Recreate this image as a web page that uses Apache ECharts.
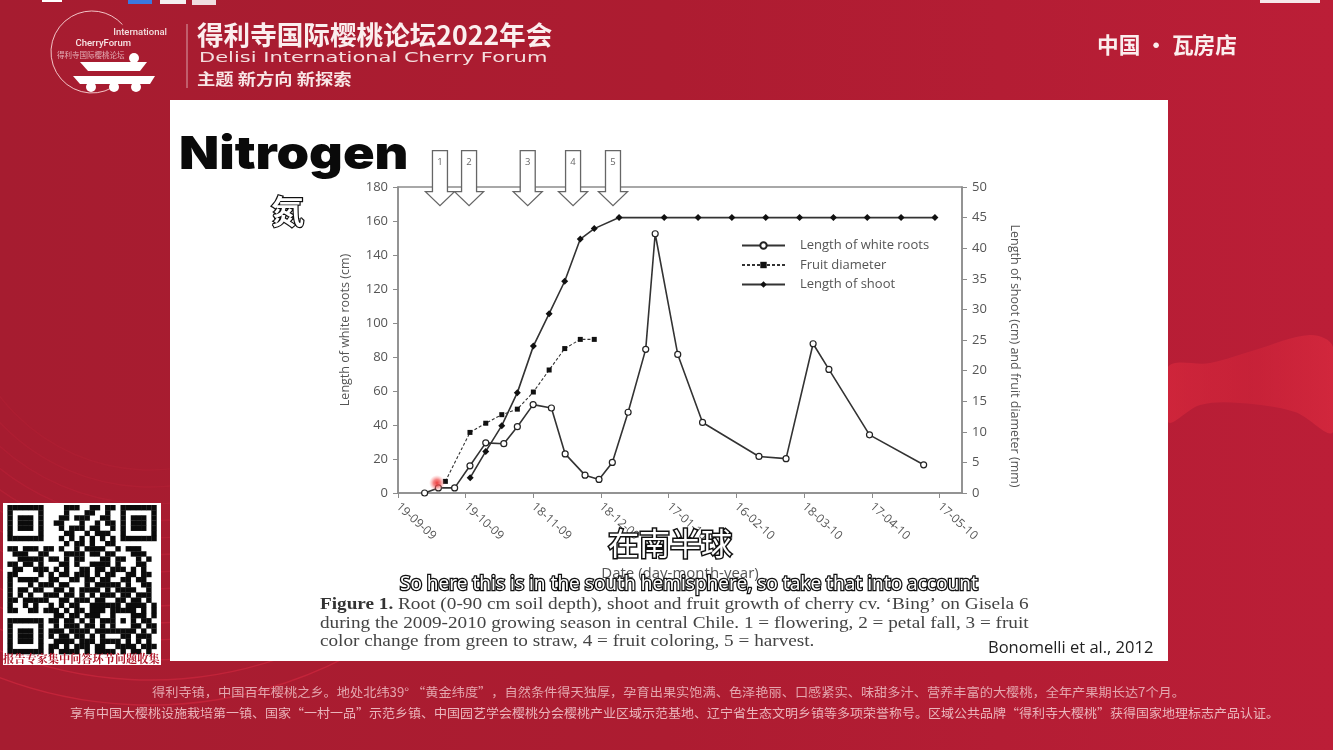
<!DOCTYPE html>
<html><head><meta charset="utf-8">
<style>html,body{margin:0;padding:0;background:#a81c32}#c{width:1333px;height:750px}</style>
<script src="https://cdn.jsdelivr.net/npm/echarts@6/dist/echarts.min.js"></script>
</head><body><div id="c"></div>
<script>
// Days are counted from the first axis tick, 19-09-09
var tickDays = [0,30,60,90,120,150,180,210,240];
var tickLabels = ['19-09-09','19-10-09','18-11-09','18-12-09','17-01-10','16-02-10','18-03-10','17-04-10','17-05-10'];
var rootDays = [11.8,17.9,25.1,31.9,38.9,46.9,52.9,59.9,68,74.1,82.9,89.1,95,102,109.8,114,124,135,160,172,184,191,209,233];
var rootLength = [0,3,3,16,29.5,29,39,52,50,23,10.5,8,18,47.5,84.5,152.5,81.5,41.5,21.5,20.2,87.8,72.7,34.2,16.6];
var fruitDays = [21,31.9,38.9,46,52.9,60,67,73.9,80.8,87];
var fruitDiameter = [1.9,9.9,11.4,12.8,13.7,16.5,20.1,23.6,25.1,25.1];
var shootDays = [32,38.9,46,52.9,60,67,73.9,80.8,87,98,118,133,148,163,178,193,208,223,238];
var shootLength = [2.5,6.8,11,16.4,24,29.3,34.6,41.5,43.2,45,45,45,45,45,45,45,45,45,45];
var stageDays = [18.6,31.5,57.5,77.6,95.3];
var stageLabels = ['1','2','3','4','5'];
var seriesNames = ['Length of white roots','Fruit diameter','Length of shoot'];
var captionLines = ['Root (0-90 cm soil depth), shoot and fruit growth of cherry cv. ‘Bing’ on Gisela 6','during the 2009-2010 growing season in central Chile. 1 = flowering, 2 = petal fall, 3 = fruit','color change from green to straw, 4 = fruit coloring, 5 = harvest.'];
var qrRows = [
'11111110000111001101101111111',
'10000010000100011001001000001',
'10111010001101110011001011101',
'10111010011000100101101011101',
'10111010001011101100101011101',
'10000010000110010111001000001',
'11111110001010101010101111111',
'00000000000101101001100000000',
'11011101101001011110010111000',
'01110011000111101101100011100',
'00111110110101100011011001010',
'11011010001101001111010001100',
'01100111010100110110111010100',
'11000010101101110101100110110',
'10111100110011011011001101100',
'10001011101100010111110100110',
'10110110011010111101011110010',
'10101001110110101011101101110',
'11011111001101110110011011010',
'10010100101011001111110111101',
'11001101110101101110111110101',
'00000000011011011100100011101',
'11111110110110101011101010110',
'10000010010111011010100011011',
'10111010111011110111111110101',
'10111010101101101010001101110',
'10111010011110111011110101010',
'10000010110101110110011110111',
'11111110101111010111101011010'];

function txt(x,y,text,size,fill,o){o=o||{};return {type:'text',x:x,y:y,scaleX:o.sx||1,z:o.z||50,silent:true,
 style:{text:text,fontSize:size,fontFamily:o.font||'"Noto Sans CJK SC"',fontWeight:o.w||'normal',fill:fill,
 textAlign:o.align||'left',textVerticalAlign:'middle',stroke:o.stroke,lineWidth:o.lw||0}};}
function rect(x,y,w,h,fill,z){return {type:'rect',z:z==null?-10:z,silent:true,shape:{x:x,y:y,width:w,height:h},style:{fill:fill}};}
function ring(cx,cy,r,c,lw,a0,a1,z){return {type:'arc',z:z==null?-9:z,silent:true,shape:{cx:cx,cy:cy,r:r,startAngle:a0,endAngle:a1},style:{fill:'none',stroke:c,lineWidth:lw}};}

var gfx = [];
gfx.push({type:'rect',z:-12,silent:true,shape:{x:0,y:0,width:1333,height:750},style:{fill:new echarts.graphic.LinearGradient(0,0,1,0,[{offset:0,color:'#a61c30'},{offset:.5,color:'#ad1c31'},{offset:1,color:'#bb1e37'}])}});
// faint curves low on the left
[190,207,224,241,258,275,292,309,326,343,360,380,400,425].forEach(function(r,i){
 gfx.push(ring(150,280,r,'rgba(226,45,70,'+(0.10+i*0.028).toFixed(3)+')',1.4,0.05,3.1,-11));});
// ribbon on the right
gfx.push({type:'polygon',z:-11,silent:true,shape:{smooth:0.35,points:[[1168,367],[1210,363],[1255,350],[1310,335],[1333,347],[1333,432],[1295,412],[1240,403],[1200,405],[1168,422]]},
 style:{fill:new echarts.graphic.LinearGradient(0,0,1,0,[{offset:0,color:'rgba(222,42,62,0.6)'},{offset:.5,color:'rgba(215,38,58,0.45)'},{offset:1,color:'rgba(225,45,65,0.6)'}])}});
// browser remnants along the top edge
gfx.push(rect(128,0,24,4,'#3b78e0',-8),rect(160,0,26,4,'#f4f0f0',-8),rect(192,0,24,5,'#f0dde0',-8),rect(42,0,20,2,'#ffffff',-8),rect(1260,0,60,3,'#f6e8ea',-8));
// slide panel
gfx.push(rect(170,100,998,561,'#ffffff',-5));
// QR block
gfx.push(rect(3,503,158,162,'#ffffff',-5));
qrRows.forEach(function(row,i){
 row.split('').forEach(function(b,j){ if(b==='1') gfx.push(rect(7.4+j*5.14,505+i*5.14,5.4,5.4,'#0b0b0b',-4)); });});
gfx.push(txt(3,658.5,'报告专家集中问答环节问题收集',11.2,'#b01528',{w:'bold',font:'"Noto Serif CJK SC","Noto Sans CJK SC"'}));
// logo
gfx.push(ring(92,52,41,'rgba(255,225,225,0.85)',1,1.05,5.55,1));
gfx.push(txt(167,33,'International',9.5,'#f2dede',{align:'right',font:'Roboto',w:'500'}),
 txt(131,44,'CherryForum',9.5,'#f7e6e6',{align:'right',font:'Roboto',w:'500'}),
 txt(57,55,'得利寺国际樱桃论坛',7.5,'#e4aeb6'));
gfx.push({type:'polygon',z:2,silent:true,shape:{points:[[80,62],[147,62],[140,71],[88,71]]},style:{fill:'#fff'}},
 {type:'polygon',z:2,silent:true,shape:{points:[[73,76],[155,76],[150,84],[80,84]]},style:{fill:'#fff'}},
 {type:'circle',z:2,silent:true,shape:{cx:134,cy:58,r:5},style:{fill:'#fff'}},
 {type:'circle',z:2,silent:true,shape:{cx:91,cy:87,r:5},style:{fill:'#fff'}},
 {type:'circle',z:2,silent:true,shape:{cx:114,cy:87,r:5},style:{fill:'#fff'}},
 {type:'circle',z:2,silent:true,shape:{cx:136,cy:87,r:5},style:{fill:'#fff'}});
gfx.push(rect(186.5,24,1,64,'#d9a0a8',1));
// header
gfx.push(txt(197,35,'得利寺国际樱桃论坛2022年会',26.6,'#fbeeee',{w:'bold'}),
 txt(199,58,'Delisi International Cherry Forum',14,'#f4dede',{font:'"DejaVu Sans"',sx:1.5}),
 txt(197,79,'主题 新方向 新探索',15.5,'#f8e6e6',{w:'bold',sx:1.18}),
 txt(1097,45,'中国 · 瓦房店',21.7,'#fbeeee',{w:'bold'}));
// slide title and overlays
gfx.push(txt(179,155,'Nitrogen',46,'#0a0a0a',{font:'Inter',w:'900',sx:1.135}));
gfx.push(txt(271,211,'氮',33,'#ffffff',{w:'bold',stroke:'#111',lw:2.5,z:60}));
gfx.push(txt(608,543,'在南半球',31,'#ffffff',{stroke:'#111',lw:3,z:60}));
gfx.push(txt(400,584.5,'So here this is in the south hemisphere, so take that into account',19,'#ffffff',{font:'"Noto Sans"',stroke:'#111',lw:2.6,z:60}));
// caption
gfx.push(txt(320,605,'Figure 1.',16,'#333',{font:'"Liberation Serif"',w:'bold',sx:1.2}));
gfx.push(txt(398,605,captionLines[0],16,'#444',{font:'"Liberation Serif"',sx:1.206}));
gfx.push(txt(320,623.5,captionLines[1],16,'#444',{font:'"Liberation Serif"',sx:1.2}));
gfx.push(txt(320,641.5,captionLines[2],16,'#444',{font:'"Liberation Serif"',sx:1.2}));
gfx.push(txt(988,648,'Bonomelli et al., 2012',16.5,'#222',{font:'"Open Sans"'}));
// footer
gfx.push(txt(152,692,'得利寺镇，中国百年樱桃之乡。地处北纬39° “黄金纬度”，自然条件得天独厚，孕育出果实饱满、色泽艳丽、口感紧实、味甜多汁、营养丰富的大樱桃，全年产果期长达7个月。',12.5,'#e4a6ae',{sx:1.056}));
gfx.push(txt(70,713,'享有中国大樱桃设施栽培第一镇、国家“一村一品”示范乡镇、中国园艺学会樱桃分会樱桃产业区域示范基地、辽宁省生态文明乡镇等多项荣誉称号。区域公共品牌“得利寺大樱桃”获得国家地理标志产品认证。',12.5,'#eab4bb',{sx:1.04}));
// laser pointer
gfx.push({type:'circle',z:40,silent:true,shape:{cx:437,cy:483,r:8},style:{fill:new echarts.graphic.RadialGradient(.5,.5,.5,[{offset:0,color:'rgba(235,50,50,0.95)'},{offset:.45,color:'rgba(240,80,80,0.7)'},{offset:1,color:'rgba(250,150,150,0)'}])}});

function pairs(xs,ys){return xs.map(function(x,i){return [x,ys[i]];});}
var axisCol='#8c8c8c', font='"Open Sans"', txtCol='#555';
var chart = echarts.init(document.getElementById('c'),null,{renderer:'canvas'});
chart.setOption({
 animation:false,
 graphic:{elements:gfx},
 legend:{left:736,top:234,orient:'vertical',itemWidth:43,itemHeight:8,itemGap:6.5,selectedMode:false,
   data:seriesNames,textStyle:{fontFamily:font,fontSize:13,color:'#555',padding:[0,0,0,10]}},
 grid:{left:398,right:371,top:187,bottom:257,show:true,borderColor:axisCol,borderWidth:1.5,backgroundColor:'transparent'},
 xAxis:{type:'value',min:0,max:250,splitLine:{show:false},
   name:'Date (day-month-year)',nameLocation:'middle',nameGap:73,nameTextStyle:{fontFamily:font,fontSize:15,color:txtCol},
   axisLine:{lineStyle:{color:axisCol,width:1.5}},
   axisTick:{length:5,lineStyle:{color:axisCol},customValues:tickDays},
   axisLabel:{customValues:tickDays,rotate:-42,margin:12,fontFamily:font,fontSize:12,color:txtCol,
     formatter:function(v){return tickLabels[tickDays.indexOf(v)]||'';}}},
 yAxis:[
  {type:'value',min:0,max:180,interval:20,splitLine:{show:false},
   name:'Length of white roots (cm)',nameLocation:'middle',nameRotate:90,nameGap:46,nameTextStyle:{fontFamily:font,fontSize:12.5,color:txtCol,padding:[0,0,0,20]},
   axisLine:{show:true,lineStyle:{color:axisCol,width:1.5}},axisTick:{show:true,length:5,lineStyle:{color:axisCol}},
   axisLabel:{margin:10,fontFamily:font,fontSize:13,color:txtCol}},
  {type:'value',min:0,max:50,interval:5,position:'right',splitLine:{show:false},
   name:'Length of shoot (cm) and fruit diameter (mm)',nameLocation:'middle',nameRotate:-90,nameGap:46,nameTextStyle:{fontFamily:font,fontSize:12.5,color:txtCol,padding:[0,0,0,32]},
   axisLine:{show:true,lineStyle:{color:axisCol,width:1.5}},axisTick:{show:true,length:5,lineStyle:{color:axisCol}},
   axisLabel:{margin:10,fontFamily:font,fontSize:13,color:txtCol}}
 ],
 series:[
  {name:seriesNames[0],type:'line',yAxisIndex:0,data:pairs(rootDays,rootLength),symbol:'circle',symbolSize:6,z:5,
   lineStyle:{color:'#333',width:1.6},itemStyle:{color:'#fff',borderColor:'#222',borderWidth:1.2}},
  {name:seriesNames[1],type:'line',yAxisIndex:1,data:pairs(fruitDays,fruitDiameter),symbol:'rect',symbolSize:5,z:4,
   lineStyle:{color:'#333',width:1.1,type:[3,2]},itemStyle:{color:'#111'}},
  {name:seriesNames[2],type:'line',yAxisIndex:1,data:pairs(shootDays,shootLength),symbol:'diamond',symbolSize:7,z:4,
   lineStyle:{color:'#333',width:1.6},itemStyle:{color:'#111'}},
  {type:'custom',yAxisIndex:0,z:8,clip:false,silent:true,data:stageDays.map(function(d,i){return [d,169,stageLabels[i]];}),
   encode:{x:0,y:1},
   renderItem:function(p,api){var c=api.coord([api.value(0),api.value(1)]),x=c[0],y=c[1];
    return {type:'group',children:[
     {type:'polygon',shape:{points:[[x-7.5,y-55],[x+7.5,y-55],[x+7.5,y-14],[x+14.5,y-14],[x,y],[x-14.5,y-14],[x-7.5,y-14]]},style:{fill:'#fff',stroke:'#666',lineWidth:1.3}},
     {type:'text',style:{x:x,y:y-43,text:stageLabels[p.dataIndex],textAlign:'center',textVerticalAlign:'middle',fontSize:9.5,fontFamily:font,fill:'#666'}}
    ]};}}
 ]
});
</script></body></html>
